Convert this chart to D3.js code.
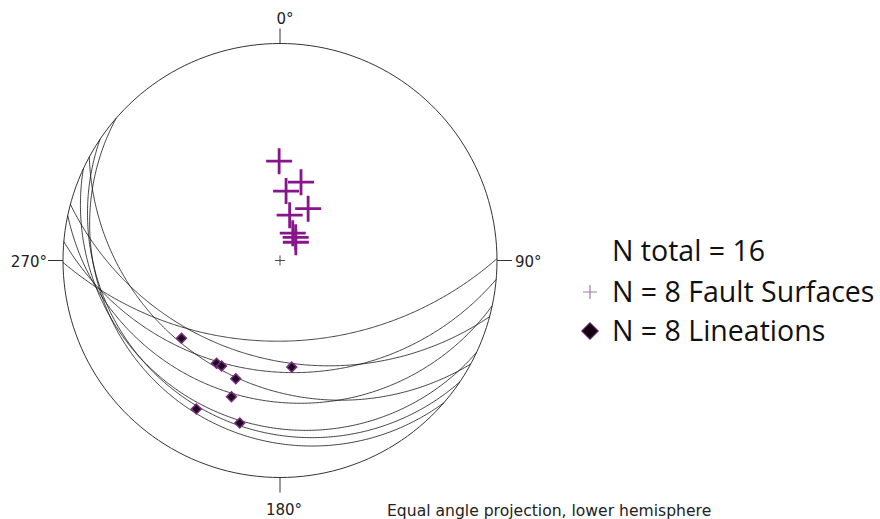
<!DOCTYPE html>
<html>
<head>
<meta charset="utf-8">
<script src="https://cdn.jsdelivr.net/npm/d3@7/dist/d3.min.js"></script>
<style>
  body { margin: 0; background: #fff; }
  svg { display: block; }
</style>
</head>
<body>
<svg id="net" width="880" height="519"></svg>
<script>
// Fault surfaces: dip direction / dip (degrees)
const faultDipDir = [179.5, 185, 192, 195, 205, 208.5, 214, 221];
const faultDip    = [49.2, 35.6, 24.1, 41.0, 15.8, 30.4, 14.7, 12.7];

// Lineations: trend / plunge (degrees)
const linTrend  = [231.7, 211.7, 209.0, 173.7, 200.5, 199.6, 209.4, 193.9];
const linPlunge = [29.9, 31.8, 31.9, 37.4, 29.6, 22.6, 13.7, 14.7];

// Primitive labels
const cardinalAz     = [0, 90, 180, 270];
const cardinalLabels = ["0°", "90°", "180°", "270°"];

const legendLabels = ["N total = 16", "N = 8 Fault Surfaces", "N = 8 Lineations"];
const footnote = "Equal angle projection, lower hemisphere";

const svg = d3.select("#net");
const R = 217, cx = 280, cy = 260.5;

const purple = "#88158d";

// lower hemisphere, equal angle (stereographic); centre of net = vertical
const projection = d3.geoStereographic()
  .rotate([0, 90])
  .clipAngle(90)
  .scale(R)
  .translate([cx, cy])
  .precision(0.1);
const path = d3.geoPath(projection);

// a line (trend, plunge) as lon/lat on the lower hemisphere
const lineToGeo = (trend, plunge) => [trend, -plunge];

// --- primitive circle ---
svg.append("path")
  .datum({ type: "Sphere" })
  .attr("d", path)
  .attr("fill", "none")
  .attr("stroke", "#333")
  .attr("stroke-width", 1);

// --- great circles (each plane = 90° circle about its pole) ---
const poles = faultDipDir.map((dd, i) => lineToGeo((dd + 180) % 360, 90 - faultDip[i]));

const gc = svg.append("g").attr("class", "great-circles");
poles.forEach(p => {
  const ring = d3.geoCircle().center(p).radius(90).precision(0.5)().coordinates[0];
  gc.append("path")
    .datum({ type: "LineString", coordinates: ring })
    .attr("d", path)
    .attr("fill", "none")
    .attr("stroke", "#111")
    .attr("stroke-width", 0.8);
});

// --- cardinal ticks + labels ---
const tickLen = 15;
const labelOffset = {
  0:   { dx: 5,  dy: -5,  anchor: "middle" },
  90:  { dx: 3,  dy: 6,   anchor: "start" },
  180: { dx: 4,  dy: 22,  anchor: "middle" },
  270: { dx: -1, dy: 6,   anchor: "end" }
};
cardinalAz.forEach((az, i) => {
  const [ex, ey] = projection(lineToGeo(az, 0));
  const ux = (ex - cx) / R, uy = (ey - cy) / R;
  const tx = ex + ux * tickLen, ty = ey + uy * tickLen;
  svg.append("line")
    .attr("x1", ex).attr("y1", ey)
    .attr("x2", tx).attr("y2", ty)
    .attr("stroke", "#333")
    .attr("stroke-width", 1);
  const o = labelOffset[az];
  svg.append("text")
    .attr("x", tx + o.dx)
    .attr("y", ty + o.dy)
    .attr("text-anchor", o.anchor)
    .style("font-family", "DejaVu Sans, Verdana, sans-serif")
    .style("font-size", "15px")
    .attr("fill", "#222")
    .text(cardinalLabels[i]);
});

// centre cross
const [c0x, c0y] = projection(lineToGeo(0, 90));
svg.append("path")
  .attr("d", `M${c0x - 5},${c0y}H${c0x + 5}M${c0x},${c0y - 5}V${c0y + 5}`)
  .attr("stroke", "#333")
  .attr("stroke-width", 0.9);

// --- poles to fault surfaces (purple crosses) ---
const crossSize = 13;
svg.append("g")
  .selectAll("path")
  .data(poles)
  .join("path")
  .attr("d", d => {
    const [x, y] = projection(d);
    return `M${x - crossSize},${y}H${x + crossSize}M${x},${y - crossSize}V${y + crossSize}`;
  })
  .attr("stroke", purple)
  .attr("stroke-width", 2.8)
  .attr("fill", "none");

// --- lineations (diamonds) ---
const diamond = d3.symbol().type(d3.symbolDiamond2).size(62);
svg.append("g")
  .selectAll("path")
  .data(linTrend.map((t, i) => lineToGeo(t, linPlunge[i])))
  .join("path")
  .attr("transform", d => {
    const [x, y] = projection(d);
    return `translate(${x},${y})`;
  })
  .attr("d", diamond)
  .attr("fill", "#1c0a1e")
  .attr("stroke", "#7a2a80")
  .attr("stroke-width", 1.5);

// --- legend ---
const legend = svg.append("g").attr("transform", "translate(612,0)");
const legendY = [261, 302, 341];
legendLabels.forEach((t, i) => {
  legend.append("text")
    .attr("x", 0)
    .attr("y", legendY[i])
    .style("font-family", "Open Sans, Lato, sans-serif")
    .style("font-size", "28.5px")
    .attr("fill", "#111")
    .text(t);
});
legend.append("path")
  .attr("d", "M-29,292H-15M-22,285V299")
  .attr("stroke", "#a779ab")
  .attr("stroke-width", 1.2);
legend.append("path")
  .attr("transform", "translate(-22,331)")
  .attr("d", d3.symbol().type(d3.symbolDiamond2).size(170)())
  .attr("fill", "#12000f")
  .attr("stroke", "#5a2060")
  .attr("stroke-width", 1.2);

// footnote
svg.append("text")
  .attr("x", 387)
  .attr("y", 516)
  .style("font-family", "DejaVu Sans, Verdana, sans-serif")
  .style("font-size", "15.6px")
  .attr("fill", "#222")
  .text(footnote);
</script>
</body>
</html>
